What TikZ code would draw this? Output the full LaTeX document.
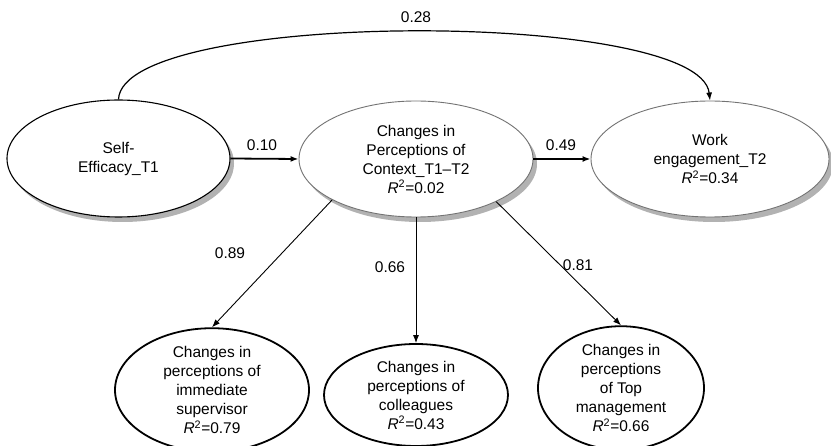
\documentclass[tikz,border=0pt]{standalone}
\usepackage{fontspec}
\setmainfont{Liberation Sans}
\usetikzlibrary{shapes.geometric,arrows.meta,shadows}
\newcommand\diagfont{\fontsize{15.5}{19}\selectfont}
\newcommand\Rsq[1]{{\itshape R}\textsuperscript{2}=#1}
\tikzset{
  lat/.style={ellipse, align=center, inner sep=0pt, font=\diagfont, fill=white},
  topell/.style={lat, drop shadow={shadow xshift=4pt, shadow yshift=-5pt, fill=black!30, opacity=1}},
  botell/.style={lat, draw=black, line width=1.8pt},
  thickarr/.style={line width=1.8pt, -{Latex[length=8pt,width=6pt]}},
  thinarr/.style={line width=0.9pt, -{Latex[length=8pt,width=6pt]}},
  lbl/.style={font=\diagfont, inner sep=0pt}
}
\begin{document}
\begin{tikzpicture}[x=1pt,y=-1pt]
\useasboundingbox (0,0) rectangle (831,446);
% top row
\node[topell, draw=black, line width=1.1pt, minimum width=223pt, minimum height=117pt] (se) at (118.5,158.5) {Self-\\Efficacy\_T1};
\node[topell, draw=black!55, line width=0.9pt, minimum width=234pt, minimum height=116pt] (ctx) at (416,159) {Changes in\\Perceptions of\\Context\_T1–T2\\\Rsq{0.02}};
\node[topell, draw=black!55, line width=0.9pt, minimum width=238pt, minimum height=116pt] (work) at (710,159) {Work\\engagement\_T2\\\Rsq{0.34}};
% bottom row
\node[botell, minimum width=194pt, minimum height=106pt] (sup) at (212,390) {Changes in\\perceptions of\\immediate\\supervisor\\\Rsq{0.79}};
\node[botell, minimum width=184pt, minimum height=102pt] (col) at (416,395) {Changes in\\perceptions of\\colleagues\\\Rsq{0.43}};
\node[botell, minimum width=166pt, minimum height=110pt] (tm) at (621,388) {Changes in\\perceptions\\of Top\\management\\\Rsq{0.66}};
% connectors
\draw[thickarr] (se.east) -- (ctx.west);
\draw[thickarr] (ctx.east) -- (work.west);
\draw[line width=1.2pt, -{Latex[length=8pt,width=6pt]}] (se.north) .. controls (122,9) and (700,9) .. (work.north);
\draw[thinarr] (ctx.206) -- (sup.north);
\draw[thinarr] (ctx.south) -- (col.north);
\draw[thinarr] (ctx.332) -- (tm.north);
% labels
\node[lbl] (l28) at (416,17) {0.28};
\node[lbl] (l10) at (262,145) {0.10};
\node[lbl] (l49) at (561,145) {0.49};
\node[lbl] (l89) at (230,253) {0.89};
\node[lbl] (l66) at (390,267) {0.66};
\node[lbl] (l81) at (578,265) {0.81};
\end{tikzpicture}
\end{document}
